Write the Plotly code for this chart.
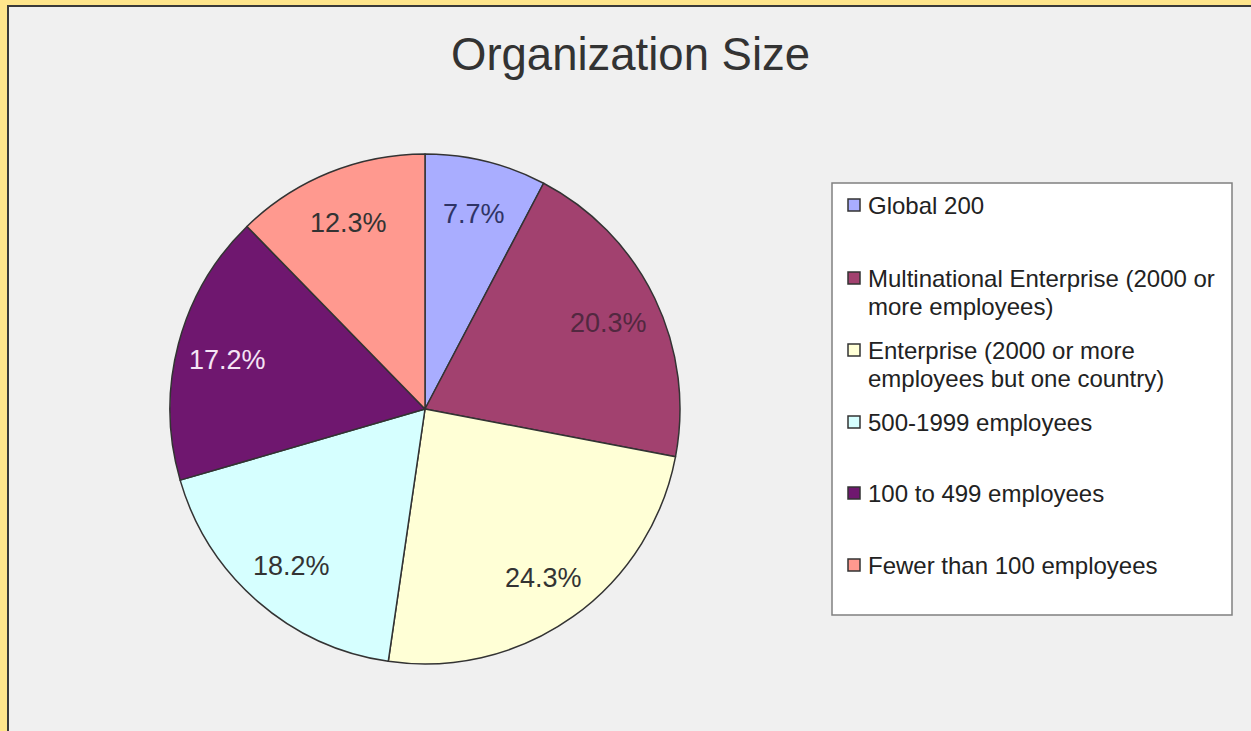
import math
import plotly.graph_objects as go

categories = [
    "Global 200",
    "Multinational Enterprise (2000 or<br>more employees)",
    "Enterprise (2000 or more<br>employees but one country)",
    "500-1999 employees",
    "100 to 499 employees",
    "Fewer than 100 employees",
]
values = [7.7, 20.3, 24.3, 18.2, 17.2, 12.3]
labels_text = ["7.7%", "20.3%", "24.3%", "18.2%", "17.2%", "12.3%"]
colors = ["#A9ADFF", "#A2416F", "#FFFFD6", "#D6FFFF", "#6F176F", "#FF998F"]
text_colors = ["#2f3466", "#522840", "#333333", "#333333", "#f5e4f5", "#333333"]

W, H = 1251, 731
FONT = "Liberation Sans, Arial, sans-serif"

# pie geometry (pixels)
CX, CY, R = 425, 409, 255
LABEL_R = 0.8 * R


def px(x):
    return x / W


def py(y):
    return 1 - y / H


fig = go.Figure(
    go.Pie(
        labels=[c.replace("<br>", " ") for c in categories],
        values=values,
        textinfo="none",
        marker=dict(colors=colors, line=dict(color="#333333", width=1.5)),
        sort=False,
        direction="clockwise",
        rotation=0,
        domain=dict(x=[px(CX - R), px(CX + R)], y=[py(CY + R), py(CY - R)]),
        hoverinfo="label+percent",
        showlegend=False,
    )
)

annotations = []
# slice labels placed along each slice's bisector
total = sum(values)
cum = 0.0
for v, t, tc in zip(values, labels_text, text_colors):
    mid = 2 * math.pi * (cum + v / 2) / total
    cum += v
    lx = CX + LABEL_R * math.sin(mid)
    ly = CY - LABEL_R * math.cos(mid) + 3
    annotations.append(
        dict(
            x=px(lx), y=py(ly), xref="paper", yref="paper",
            text=t, showarrow=False, xanchor="center", yanchor="middle",
            font=dict(size=27, color=tc, family=FONT),
        )
    )

# frame + legend box (Excel style)
shapes = [
    dict(
        type="rect", xref="paper", yref="paper",
        x0=px(8), x1=1.01, y0=-0.01, y1=py(6),
        fillcolor="#F0F0F0", line=dict(color="#3a3a3a", width=2), layer="below",
    ),
    dict(
        type="rect", xref="paper", yref="paper",
        x0=px(832), x1=px(1232), y0=py(615), y1=py(183),
        fillcolor="#FFFFFF", line=dict(color="#808080", width=1.5), layer="below",
    ),
]

item_y = [205, 278, 350, 422, 493, 565]
LINE_GAP = 28.5
for cat, col, y0 in zip(categories, colors, item_y):
    shapes.append(
        dict(
            type="rect", xref="paper", yref="paper",
            x0=px(848), x1=px(860), y0=py(y0 + 6), y1=py(y0 - 6),
            fillcolor=col, line=dict(color="#333333", width=1.5),
        )
    )
    for i, line in enumerate(cat.split("<br>")):
        annotations.append(
            dict(
                x=px(866), y=py(y0 + i * LINE_GAP), xref="paper", yref="paper",
                text=line, showarrow=False, xanchor="left", yanchor="middle",
                font=dict(size=24, color="#222222", family=FONT),
            )
        )

annotations.append(
    dict(
        x=px(630), y=py(55), xref="paper", yref="paper",
        text="Organization Size", showarrow=False, xanchor="center", yanchor="middle",
        font=dict(size=45.5, color="#333333", family=FONT),
    )
)

fig.update_layout(
    width=W,
    height=H,
    margin=dict(l=0, r=0, t=0, b=0),
    paper_bgcolor="#FFE68C",
    font=dict(family=FONT, color="#333333"),
    shapes=shapes,
    annotations=annotations,
)

fig.write_html(
    "out.html",
    config={"displayModeBar": False},
    post_script="document.body.style.margin='0';document.body.style.overflow='hidden';",
)
